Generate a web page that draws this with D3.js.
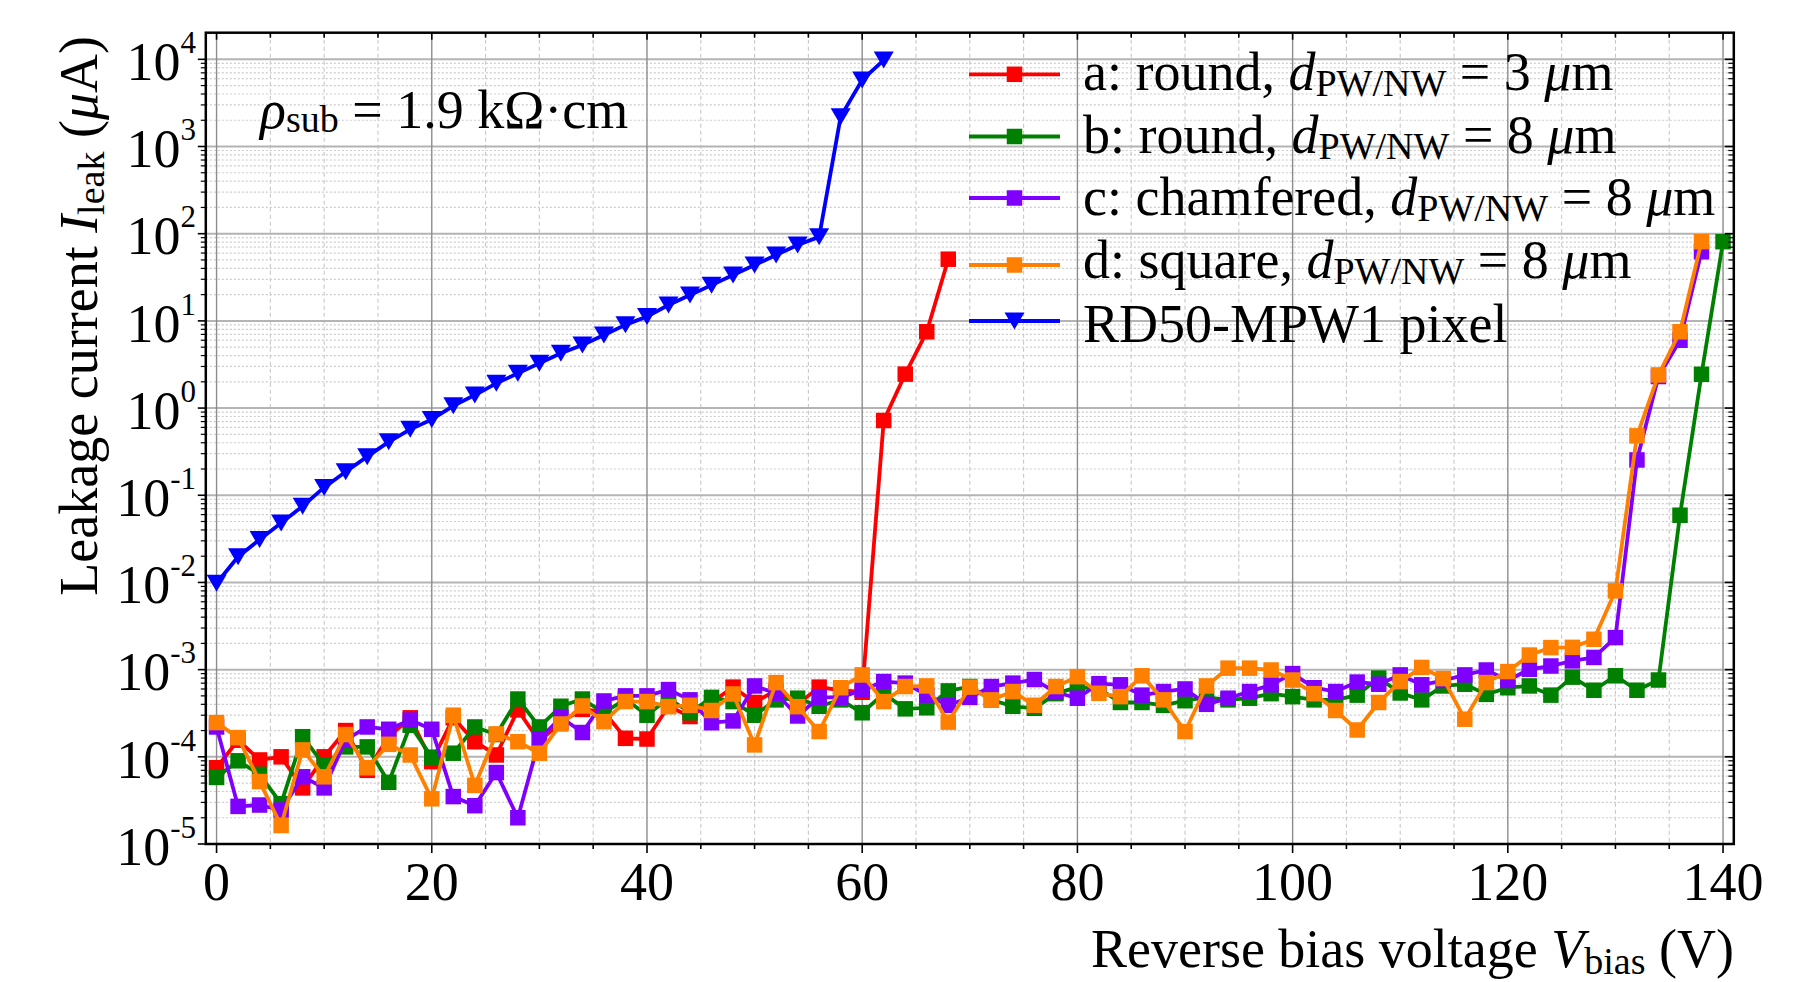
<!DOCTYPE html>
<html><head><meta charset="utf-8">
<script src="https://cdn.jsdelivr.net/npm/d3@7"></script>
<style>
body{margin:0;background:#fff;}
svg{display:block;background:#fff;}
text{font-family:"Liberation Serif","Times New Roman",serif;fill:#000;}
</style></head><body>
<svg id="chart" width="1796" height="982"></svg>
<script>
// ---------------- data ----------------
const voltages = [0,2,4,6,8,10,12,14,16,18,20,22,24,26,28,30,32,34,36,38,40,42,44,46,48,50,52,54,56,58,60,62,64,66,68,70,72,74,76,78,80,82,84,86,88,90,92,94,96,98,100,102,104,106,108,110,112,114,116,118,120,122,124,126,128,130,132,134,136,138,140];

// a: round, d = 3 um  (uA)
const currentA = [7.5e-5,1.55e-4,9.2e-5,1.0e-4,4.4e-5,1.0e-4,2.0e-4,7.0e-5,1.7e-4,2.8e-4,8.8e-5,2.8e-4,1.49e-4,1.05e-4,3.45e-4,1.5e-4,2.5e-4,3.5e-4,3.3e-4,1.63e-4,1.6e-4,3.8e-4,2.9e-4,4.2e-4,6.3e-4,4.2e-4,5.8e-4,4.0e-4,6.3e-4,5.8e-4,5.5e-4,0.72,2.45,7.5,51];
// b: round, d = 8 um
const currentB = [5.8e-5,9.0e-5,6.3e-5,2.9e-5,1.7e-4,8.0e-5,1.3e-4,1.3e-4,5.1e-5,2.3e-4,9.9e-5,1.1e-4,2.2e-4,1.8e-4,4.6e-4,2.2e-4,3.8e-4,4.6e-4,3.2e-4,4.6e-4,3.0e-4,4.7e-4,3.2e-4,4.8e-4,4.3e-4,3.0e-4,4.5e-4,4.7e-4,3.8e-4,4.5e-4,3.2e-4,5.3e-4,3.55e-4,3.65e-4,5.7e-4,6.4e-4,4.5e-4,3.8e-4,3.6e-4,5.3e-4,6.3e-4,6.0e-4,4.2e-4,4.2e-4,3.9e-4,4.4e-4,4.8e-4,4.5e-4,4.7e-4,5.3e-4,4.9e-4,4.5e-4,4.5e-4,5.1e-4,8.0e-4,5.4e-4,4.5e-4,6.5e-4,6.8e-4,5.2e-4,6.2e-4,6.5e-4,5.1e-4,8.2e-4,5.8e-4,8.5e-4,5.8e-4,7.6e-4,0.059,2.44,81];
// c: chamfered, d = 8 um
const currentC = [2.2e-4,2.7e-5,2.8e-5,2.45e-5,5.9e-5,4.4e-5,1.56e-4,2.2e-4,2.07e-4,2.64e-4,2.07e-4,3.5e-5,2.75e-5,6.6e-5,2.0e-5,1.59e-4,2.84e-4,1.9e-4,4.37e-4,5.0e-4,5.0e-4,5.9e-4,4.5e-4,2.46e-4,2.58e-4,6.5e-4,5.35e-4,2.94e-4,4.8e-4,4.8e-4,5.85e-4,7.3e-4,7.0e-4,5.1e-4,3.9e-4,4.8e-4,6.4e-4,7.0e-4,7.7e-4,5.5e-4,4.7e-4,6.9e-4,6.7e-4,5.1e-4,5.6e-4,6.0e-4,4.0e-4,4.7e-4,5.6e-4,6.7e-4,9.0e-4,6.2e-4,5.6e-4,7.2e-4,6.8e-4,8.7e-4,6.7e-4,7.5e-4,8.7e-4,9.9e-4,7.5e-4,1.01e-3,1.1e-3,1.26e-3,1.38e-3,2.33e-3,0.254,2.3,6.0,62];
// d: square, d = 8 um
const currentD = [2.47e-4,1.66e-4,5.2e-5,1.63e-5,1.2e-4,5.9e-5,1.8e-4,7.5e-5,1.39e-4,1.05e-4,3.3e-5,3.0e-4,4.7e-5,1.83e-4,1.49e-4,1.1e-4,2.38e-4,3.83e-4,2.53e-4,4.3e-4,4.3e-4,3.76e-4,3.9e-4,3.4e-4,5.26e-4,1.37e-4,7.1e-4,3.76e-4,1.95e-4,6.2e-4,8.7e-4,4.3e-4,6.4e-4,6.5e-4,2.5e-4,6.3e-4,4.5e-4,5.6e-4,3.9e-4,6.4e-4,8.3e-4,5.35e-4,4.9e-4,8.5e-4,4.5e-4,1.95e-4,6.5e-4,1.04e-3,1.04e-3,9.9e-4,7.6e-4,5.3e-4,3.4e-4,2.03e-4,4.2e-4,7.3e-4,1.06e-3,7.9e-4,2.7e-4,7.1e-4,9.5e-4,1.47e-3,1.79e-3,1.8e-3,2.23e-3,8.0e-3,0.48,2.4,7.5,81];
// RD50-MPW1 pixel
const currentRD50 = [0.0098,0.0197,0.031,0.048,0.075,0.123,0.186,0.277,0.41,0.57,0.74,1.06,1.41,1.92,2.5,3.26,4.25,5.3,6.9,9.0,11.2,15.2,19.8,25.7,33.6,43.7,57,74,92,2200,5800,9800];

const seriesColors = ["#ff0000","#008000","#8000ff","#ff8000","#0000ff"];
const xTickValues = [0,20,40,60,80,100,120,140];
const yTickExponents = [-5,-4,-3,-2,-1,0,1,2,3,4];
const legendLabels = [
  [{t:"a: round, "},{t:"d",it:1},{t:"PW/NW",sub:1},{t:" = 3 "},{t:"\u03bc",it:1},{t:"m"}],
  [{t:"b: round, "},{t:"d",it:1},{t:"PW/NW",sub:1},{t:" = 8 "},{t:"\u03bc",it:1},{t:"m"}],
  [{t:"c: chamfered, "},{t:"d",it:1},{t:"PW/NW",sub:1},{t:" = 8 "},{t:"\u03bc",it:1},{t:"m"}],
  [{t:"d: square, "},{t:"d",it:1},{t:"PW/NW",sub:1},{t:" = 8 "},{t:"\u03bc",it:1},{t:"m"}],
  [{t:"RD50-MPW1 pixel"}]
];

// ---------------- layout ----------------
const FS = 54, SUBFS = 38;
const svg = d3.select("#chart");
const L = 205.8, R = 1733.8, T = 32.7, B = 844;
const x = d3.scaleLinear().domain([-1, 141]).range([L, R]);
const y = d3.scaleLog().domain([1e-5, 2.02e4]).range([B, T]);

const series = [
  {v: voltages.slice(0, currentA.length), c: currentA, color: seriesColors[0], m: "s"},
  {v: voltages.slice(0, currentB.length), c: currentB, color: seriesColors[1], m: "s"},
  {v: voltages.slice(0, currentC.length), c: currentC, color: seriesColors[2], m: "s"},
  {v: voltages.slice(0, currentD.length), c: currentD, color: seriesColors[3], m: "s"},
  {v: voltages.slice(0, currentRD50.length), c: currentRD50, color: seriesColors[4], m: "v"}
];

svg.append("defs").append("clipPath").attr("id","clip")
  .append("rect").attr("x",L).attr("y",T).attr("width",R-L).attr("height",B-T);

// grid
const grid = svg.append("g");
const minorX = d3.range(0, 141, 5).filter(v => v % 20 !== 0);
grid.selectAll(".mx").data(minorX).enter().append("line")
  .attr("x1", d=>x(d)).attr("x2", d=>x(d)).attr("y1", T).attr("y2", B)
  .attr("stroke","#c8c8c8").attr("stroke-width",1.1).attr("stroke-dasharray","4,3");
const minorY = [];
yTickExponents.forEach(e => { for (let k=2;k<=9;k++){ const v=k*Math.pow(10,e); if (v<2.0e4) minorY.push(v);} });
grid.selectAll(".my").data(minorY).enter().append("line")
  .attr("x1", L).attr("x2", R).attr("y1", d=>y(d)).attr("y2", d=>y(d))
  .attr("stroke","#cccccc").attr("stroke-width",1.2).attr("stroke-dasharray","2,2");
grid.selectAll(".My").data(yTickExponents).enter().append("line")
  .attr("x1", L).attr("x2", R).attr("y1", d=>y(Math.pow(10,d))).attr("y2", d=>y(Math.pow(10,d)))
  .attr("stroke","#b4b4b4").attr("stroke-width",2);
grid.selectAll(".Mx").data(xTickValues).enter().append("line")
  .attr("x1", d=>x(d)).attr("x2", d=>x(d)).attr("y1", T).attr("y2", B)
  .attr("stroke","#8c8c8c").attr("stroke-width",1.4);

// data
const plot = svg.append("g").attr("clip-path","url(#clip)");
const line = d3.line().x(d=>x(d[0])).y(d=>y(d[1]));
const SQ = 15.5, TW = 20, TH = 17;
function triPath(cx, cy){ return `M${cx-TW/2},${cy-TH/2}L${cx+TW/2},${cy-TH/2}L${cx},${cy+TH/2}Z`; }
series.forEach(s => {
  const pts = s.v.map((v,i)=>[v, s.c[i]]);
  const g = plot.append("g");
  g.append("path").attr("d", line(pts)).attr("fill","none")
    .attr("stroke", s.color).attr("stroke-width",3.8).attr("stroke-linejoin","round");
  if (s.m === "s") {
    g.selectAll("rect").data(pts).enter().append("rect")
      .attr("x", d=>x(d[0])-SQ/2).attr("y", d=>y(d[1])-SQ/2)
      .attr("width",SQ).attr("height",SQ).attr("fill", s.color);
  } else {
    g.selectAll("path.m").data(pts).enter().append("path").attr("class","m")
      .attr("d", d=>triPath(x(d[0]), y(d[1]))).attr("fill", s.color);
  }
});

// spines
svg.append("rect").attr("x",L).attr("y",T).attr("width",R-L).attr("height",B-T)
  .attr("fill","none").attr("stroke","#000").attr("stroke-width",2.5);

// ticks
const ticks = svg.append("g").attr("stroke","#000").attr("stroke-width",1.6);
const minorXt = d3.range(0, 141, 5);
minorXt.forEach(v => {
  const maj = v % 20 === 0;
  const lb = maj ? 9 : 5, lt = maj ? 7 : 5;
  ticks.append("line").attr("x1",x(v)).attr("x2",x(v)).attr("y1",B).attr("y2",B+lb);
  ticks.append("line").attr("x1",x(v)).attr("x2",x(v)).attr("y1",T).attr("y2",T+lt);
});
yTickExponents.forEach(e => {
  const yy = y(Math.pow(10,e));
  ticks.append("line").attr("x1",L-8).attr("x2",L).attr("y1",yy).attr("y2",yy);
  ticks.append("line").attr("x1",R-9).attr("x2",R).attr("y1",yy).attr("y2",yy);
});
minorY.forEach(v => {
  const yy = y(v);
  ticks.append("line").attr("x1",L-5).attr("x2",L).attr("y1",yy).attr("y2",yy).attr("stroke-width",1.2);
  ticks.append("line").attr("x1",R-5.5).attr("x2",R).attr("y1",yy).attr("y2",yy).attr("stroke-width",1.2);
});

// tick labels
svg.append("g").selectAll("text").data(xTickValues).enter().append("text")
  .attr("x", d=>x(d)).attr("y", 900).attr("text-anchor","middle")
  .attr("font-size", FS).text(d=>d);
const yl = svg.append("g").selectAll("text").data(yTickExponents).enter().append("text")
  .attr("x", 196).attr("y", d=>y(Math.pow(10,d))+20.7).attr("text-anchor","end")
  .attr("font-size", FS);
yl.append("tspan").text("10");
yl.append("tspan").attr("dy",-27).attr("font-size",31).text(d=> d<0 ? "-"+(-d) : ""+d);

// axis titles
const xt = svg.append("text").attr("x", 1734).attr("y", 967).attr("text-anchor","end").attr("font-size",FS);
xt.append("tspan").text("Reverse bias voltage ");
xt.append("tspan").attr("font-style","italic").text("V");
xt.append("tspan").attr("font-size",SUBFS).attr("dy",7).text("bias");
xt.append("tspan").attr("dy",-7).text(" (V)");

const ytl = svg.append("text").attr("transform","translate(97,36) rotate(-90)")
  .attr("text-anchor","end").attr("font-size",FS);
ytl.append("tspan").text("Leakage current ");
ytl.append("tspan").attr("font-style","italic").text("I");
ytl.append("tspan").attr("font-size",SUBFS).attr("dy",7).text("leak");
ytl.append("tspan").attr("dy",-7).text(" (");
ytl.append("tspan").attr("font-style","italic").text("\u03bc");
ytl.append("tspan").text("A)");

// annotation
const ann = svg.append("text").attr("x",260).attr("y",128).attr("font-size",FS);
ann.append("tspan").attr("font-style","italic").text("\u03c1");
ann.append("tspan").attr("font-size",SUBFS).attr("dy",4).text("sub");
ann.append("tspan").attr("dy",-4).text(" = 1.9 k\u03a9\u00b7cm");

// legend
const handleY = [74.3, 136.5, 198, 265, 321];
const textY = [90, 153, 215, 278, 341.5];
const lg = svg.append("g");
series.forEach((s,i) => {
  lg.append("line").attr("x1",969).attr("x2",1060).attr("y1",handleY[i]).attr("y2",handleY[i])
    .attr("stroke", s.color).attr("stroke-width",3.8);
  if (s.m === "s") {
    lg.append("rect").attr("x",1014.5-7.75).attr("y",handleY[i]-7.75).attr("width",15.5).attr("height",15.5).attr("fill",s.color);
  } else {
    lg.append("path").attr("d", triPath(1014.5, handleY[i])).attr("fill", s.color);
  }
  const t = lg.append("text").attr("x",1083).attr("y",textY[i]).attr("font-size",FS);
  let shift = 0;
  legendLabels[i].forEach(seg => {
    const ts = t.append("tspan").text(seg.t);
    if (seg.it) ts.attr("font-style","italic");
    if (seg.sub) { ts.attr("font-size",SUBFS).attr("dy",6); shift = 6; }
    else if (shift) { ts.attr("dy",-shift); shift = 0; }
  });
});
</script>
</body></html>
